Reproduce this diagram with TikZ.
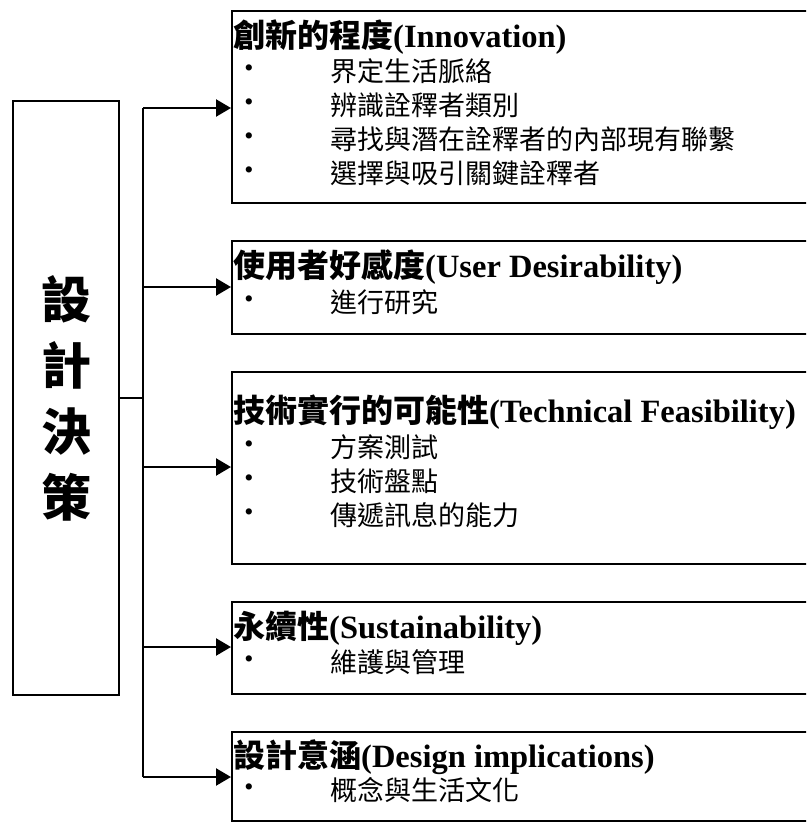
\documentclass[tikz,border=0pt]{standalone}
\usepackage{fontspec}
\setmainfont{Liberation Serif}
\newfontfamily\cjk{Noto Sans CJK TC}
\usetikzlibrary{arrows.meta}
\tikzset{
  frame/.style={draw=black, line width=2.3pt, rectangle, inner sep=0pt, fill=none},
  link/.style={draw=black, line width=2.3pt},
  arr/.style={link, -{Triangle[length=15pt, width=17pt]}},
  ttl/.style={anchor=west, inner sep=0pt, font=\fontsize{32.5}{33}\selectfont\bfseries},
  itm/.style={anchor=west, inner sep=0pt, font=\fontsize{27}{27}\selectfont\cjk},
  bul/.style={inner sep=0pt, font=\fontsize{26}{26}\selectfont},
  side/.style={frame, minimum width=106pt, minimum height=594pt, align=center,
    font=\fontsize{50}{66}\selectfont\cjk\bfseries}
}
\newcommand\cj[1]{{\cjk\bfseries\fontsize{32}{33}\selectfont #1}}
\begin{document}
\begin{tikzpicture}[x=1pt, y=-1pt]
\clip (0,0) rectangle (806,822);
\fill[white] (0,0) rectangle (806,822);
% left box
\node[side] (L) at (66,398) {設\\計\\決\\策};
% right boxes
\node[frame, anchor=north west, minimum width=600pt, minimum height=192pt] (b1) at (231,10) {};
\node[frame, anchor=north west, minimum width=600pt, minimum height=93pt] (b2) at (231,240) {};
\node[frame, anchor=north west, minimum width=600pt, minimum height=192pt] (b3) at (231,371) {};
\node[frame, anchor=north west, minimum width=600pt, minimum height=92pt] (b4) at (231,601) {};
\node[frame, anchor=north west, minimum width=600pt, minimum height=89pt] (b5) at (231,731) {};
% connectors
\coordinate (tr) at (143,0);
\coordinate (a1) at (143,108);
\coordinate (a2) at (143,287);
\coordinate (a3) at (143,467);
\coordinate (a4) at (143,647);
\coordinate (a5) at (143,777);
\draw[link] (L.east) -- (tr |- L.east);
\draw[link] (a1) -- (a5);
\draw[arr] (a1) -- (a1 -| b1.west);
\draw[arr] (a2) -- (a2 -| b2.west);
\draw[arr] (a3) -- (a3 -| b3.west);
\draw[arr] (a4) -- (a4 -| b4.west);
\draw[arr] (a5) -- (a5 -| b5.west);
% box 1
\node[ttl] (t1) at (233,37) {\cj{創新的程度}(Innovation)};
\node[bul] (p11) at (249,71) {•};
\node[itm] (i11) at (330,71) {界定生活脈絡};
\node[bul] (p12) at (249,105) {•};
\node[itm] (i12) at (330,105) {辨識詮釋者類別};
\node[bul] (p13) at (249,139) {•};
\node[itm] (i13) at (330,139) {尋找與潛在詮釋者的內部現有聯繫};
\node[bul] (p14) at (249,173) {•};
\node[itm] (i14) at (330,173) {選擇與吸引關鍵詮釋者};
% box 2
\node[ttl] (t2) at (233,267) {\cj{使用者好感度}(User Desirability)};
\node[bul] (p21) at (249,302) {•};
\node[itm] (i21) at (330,302) {進行研究};
% box 3
\node[ttl] (t3) at (233,412) {\cj{技術實行的可能性}(Technical Feasibility)};
\node[bul] (p31) at (249,447) {•};
\node[itm] (i31) at (330,447) {方案測試};
\node[bul] (p32) at (249,481) {•};
\node[itm] (i32) at (330,481) {技術盤點};
\node[bul] (p33) at (249,515) {•};
\node[itm] (i33) at (330,515) {傳遞訊息的能力};
% box 4
\node[ttl] (t4) at (233,628) {\cj{永續性}(Sustainability)};
\node[bul] (p41) at (249,662) {•};
\node[itm] (i41) at (330,662) {維護與管理};
% box 5
\node[ttl] (t5) at (233,757) {\cj{設計意涵}(Design implications)};
\node[bul] (p51) at (249,790) {•};
\node[itm] (i51) at (330,790) {概念與生活文化};
\end{tikzpicture}
\end{document}
